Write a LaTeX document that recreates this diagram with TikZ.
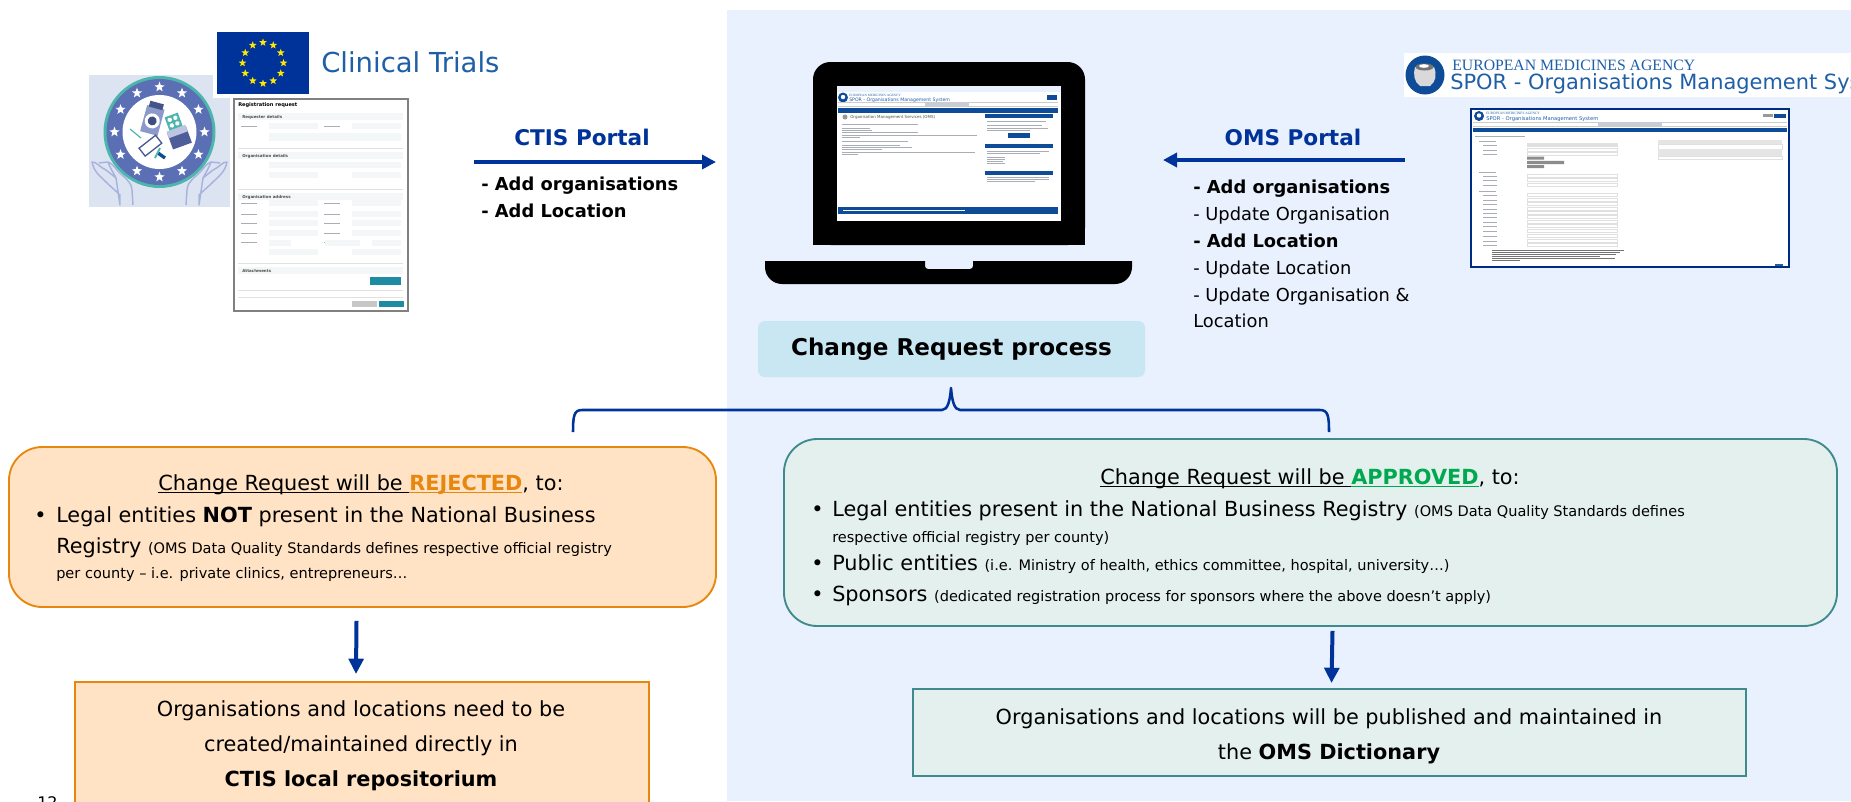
\documentclass[tikz,border=0pt]{standalone}
\usepackage{fontspec}
\setmainfont{DejaVu Sans}
\newfontfamily\emaserif{Liberation Serif}
\usetikzlibrary{shapes.geometric,arrows.meta,calc}
\definecolor{panelbg}{HTML}{EAF1FE}
\definecolor{navy}{HTML}{003399}
\definecolor{orangeln}{HTML}{E8870E}
\definecolor{orangefl}{HTML}{FFE3C4}
\definecolor{tealln}{HTML}{3F8A8C}
\definecolor{tealfl}{HTML}{E4F0EE}
\definecolor{crfill}{HTML}{C9E7F3}
\definecolor{approved}{HTML}{00A84F}
\definecolor{rejected}{HTML}{E8870E}
\definecolor{emablue}{HTML}{0F4C97}
\definecolor{titleblue}{HTML}{1F5FA8}
\definecolor{logobg}{HTML}{DCE4F2}
\definecolor{logoblue}{HTML}{5B6FB5}
\definecolor{logoteal}{HTML}{4DB6AC}
\definecolor{handln}{HTML}{A8B3DD}
\definecolor{fieldfl}{HTML}{F3F7F8}
\definecolor{formteal}{HTML}{1D8CA3}
\definecolor{greytx}{HTML}{A9AEB6}
\tikzset{
  pxsize/.style n args={2}{minimum width=#1*0.75pt,minimum height=#2*0.75pt,inner sep=0pt},
  flowarrow/.style={draw=navy,line width=3pt,-{Triangle[length=10.5pt,width=10.5pt]}},
  downarrow/.style={draw=navy,line width=3pt,-{Triangle[length=11.5pt,width=11pt]}},
  rejbox/.style={draw=orangeln,line width=1.4pt,fill=orangefl},
  appbox/.style={draw=tealln,line width=1.4pt,fill=tealfl},
  lbl/.style={anchor=base west,inner sep=0pt,text=black},
  ctr/.style={anchor=base,inner sep=0pt,text=black},
  portal/.style={anchor=base,inner sep=0pt,text=navy,font=\fontsize{16.2}{19}\selectfont\bfseries},
  tinytx/.style={anchor=base west,inner sep=0pt,text=#1},
  tinytx/.default=black,
  gline/.style={draw=greytx,line width=.55pt},
  euStar/.style={star,star points=5,star point ratio=2.4,fill=#1,draw=none,inner sep=0pt,minimum size=7pt},
}
\newcommand{\bigf}{\fontsize{15.6}{19}\selectfont}
\newcommand{\sml}{\fontsize{10.9}{14}\selectfont}
\newcommand{\lst}{\fontsize{13.4}{16}\selectfont}
\newsavebox{\ulbox}
\newcommand{\myul}[1]{\sbox{\ulbox}{#1}\rlap{\usebox{\ulbox}}\rule[-2.6pt]{\wd\ulbox}{.8pt}}
\begin{document}
\begin{tikzpicture}[x=0.75pt,y=-0.75pt]
\useasboundingbox (0,0) rectangle (1851,801);
\clip (0,0) rectangle (1851,801);
\fill[white] (0,0) rectangle (1851,801);
\fill[panelbg] (727,10) rectangle (1851,801);

% ---------- CTIS logo
\fill[logobg] (89,75) rectangle (230,207);
\fill[white] (213,75) rectangle (233,98);
\fill[logoteal] (159.5,132) circle (56);
\fill[logoblue] (159.5,132) circle (53);
\fill[white] (159.5,132) circle (37);
\foreach \i in {0,30,...,330}
  \node[euStar=white,minimum size=8pt] (ls\i) at ($(159.5,132)+(\i:45)$) {};
\foreach \mirror/\xs in {0/1,319/-1}{
\begin{scope}[shift={(\mirror,0)},xscale=\xs]
\draw[handln,line width=1.1pt,line join=round] (133,205) -- (132,190) .. controls (131,180) and (124,178) .. (117,170)
  .. controls (113,165) and (112,164) .. (108,162) .. controls (111,170) and (113,172) .. (116,178)
  (108,162) -- (99,163) (116,178) -- (106,170) .. controls (98,166) and (97,162) .. (92,162)
  .. controls (94,172) and (100,176) .. (106,182) .. controls (110,186) and (116,191) .. (120,195) -- (120,205) -- cycle;
\end{scope}}
% bottle
\begin{scope}[shift={(153,118)},rotate=-15]
\fill[logoblue!70!white] (-9,-11) rectangle (9,16);
\fill[logoblue!75!black] (-7,-16) rectangle (7,-10);
\fill[white] (0,3) circle (7.5);
\fill[logoblue!70!black] (0,3) circle (4.5);
\end{scope}
% pills
\begin{scope}[shift={(177,131)},rotate=20]
\fill[logoblue!85!black] (-10,-1) rectangle (10,16);
\fill[logoblue!40!white] (-10,-3) rectangle (10,4);
\fill[logoteal] (-7,-17) rectangle (7,-3);
\fill[white] (-3,-13) circle (2.2) (3,-13) circle (2.2) (-3,-7) circle (2.2) (3,-7) circle (2.2);
\end{scope}
% syringe
\draw[logoteal,line width=.9pt] (130,129) -- (141,138);
\draw[fill=white,draw=logoblue!80!black,line width=1pt,rotate around={38:(150,146)}] (140,141) rectangle (161,151);
\draw[emablue,line width=2.5pt] (158,153) -- (165,158);
\draw[logoteal,line width=1.4pt] (155,158) -- (160,148);

% ---------- EU flag
\fill[white] (213,29) rectangle (313,98);
\fill[navy] (217,32) rectangle (309,94);
\foreach \i in {0,30,...,330}
  \node[euStar=yellow!90!orange,minimum size=6pt] (fs\i) at ($(263,63)+(\i:20.5)$) {};
\node[anchor=base west,inner sep=0pt,text=titleblue,font=\fontsize{20.6}{24}\selectfont] (clin) at (321,72) {Clinical Trials};

% ---------- CTIS form screenshot
\draw[fill=white,draw=black!50,line width=1.9pt] (234,99) rectangle (408,311);
\node[tinytx,font=\fontsize{3.8}{4}\selectfont\bfseries] (fT) at (238,106) {Registration request};
\foreach \n/\y/\t in {a/113/Requester details,b/152/Organisation details,c/193/Organisation address,d/267/Attachments}{
  \fill[fieldfl] (238,\y) rectangle (403,\y+7);
  \node[tinytx=black!70,font=\fontsize{3}{4}\selectfont\bfseries] (fS\n) at (242,\y+5) {\t};
}
\foreach \y in {123,200,211,220,230,239}{
  \draw[gline,line width=.35pt] (241,\y+3) -- (257,\y+3);
  \draw[gline,line width=.35pt] (324,\y+3) -- (340,\y+3);
}
\foreach \y in {123,172,200,211,220,230,249}{
  \fill[fieldfl] (269,\y) rectangle (318,\y+6);
  \fill[fieldfl] (352,\y) rectangle (401,\y+6);
}
\fill[fieldfl] (269,133) rectangle (401,141);
\fill[fieldfl] (269,162) rectangle (401,168);
\fill[fieldfl] (269,240) rectangle (291,246);
\fill[fieldfl] (325,240) rectangle (360,246);
\fill[fieldfl] (372,240) rectangle (401,246);
\draw[black!12,line width=.4pt] (238,148) -- (403,148) (238,189) -- (403,189) (238,263) -- (403,263) (238,290) -- (403,290) (238,297) -- (403,297);
\fill[formteal] (370,277) rectangle (401,285);
\fill[black!22] (352,301) rectangle (377,306.5);
\fill[formteal] (379,301) rectangle (404,306.5);

% ---------- CTIS arrow + text
\coordinate (ctisFrom) at (474,162);
\coordinate (ctisTo) at (716,162);
\draw[flowarrow] (ctisFrom) -- (ctisTo);
\node[portal] (ctisT) at (582,145) {CTIS Portal};
\node[lbl,font=\lst\bfseries] (ctis1) at (481,190) {- Add organisations};
\node[lbl,font=\lst\bfseries] (ctis2) at (481,217) {- Add Location};

% ---------- Laptop
\fill[black,rounded corners=13pt] (813,245) -- (813,62) -- (1085,62) -- (1085,245) -- cycle;
\fill[black] (813,225) rectangle (1085,245);
\fill[black] (765,261) -- (925,261) -- (925,266) arc[start angle=180,end angle=90,radius=3] -- (970,269) arc[start angle=90,end angle=0,radius=3] -- (973,261) -- (1132,261) -- (1132,267) arc[start angle=0,end angle=90,radius=17] -- (782,284) arc[start angle=90,end angle=180,radius=17] -- cycle;
\fill[white] (837,86) rectangle (1061,221);
\fill[panelbg] (837,86) rectangle (1061,92);
\fill[emablue] (843,97.5) circle (5);
\fill[white] (843,97) circle (2.2);
\node[tinytx=titleblue,font=\fontsize{2.5}{3}\selectfont\emaserif] (lapE) at (849,96) {EUROPEAN MEDICINES AGENCY};
\node[tinytx=titleblue,font=\fontsize{3.5}{4}\selectfont] (lapS) at (849,101.5) {SPOR - Organisations Management System};
\fill[emablue] (1047,95) rectangle (1057,100);
\draw[black!20,line width=.4pt] (838,102.5) -- (1058,102.5) (838,106) -- (1058,106);
\fill[black!15!panelbg] (925,102.5) rectangle (969,106);
\fill[emablue] (838,108) rectangle (1058,113);
\fill[black!40] (845,117) circle (2.5);
\node[tinytx=black!70,font=\fontsize{3}{4}\selectfont] (lapH) at (850,118.5) {Organisation Management Services (OMS)};
\foreach \y/\xe in {124.5/918,128/870,130/872,132/918,135/977,137/860,141/908,145/900,147/912,149/882,152/975,154/858}
  \draw[gline,line width=.4pt] (842,\y) -- (\xe,\y);
\foreach \y in {114,144,170.5}\fill[emablue] (985,\y) rectangle (1053,\y+4);
\foreach \y/\xe in {121/1046,125/1042,128.5/1048,130.5/1030,151/1049,153/1040,157/1005,159/1005,161/1003,163/1005,177/1049,179/1049,181/1035}
  \draw[gline,line width=.4pt] (987,\y) -- (\xe,\y);
\fill[emablue] (1008,133) rectangle (1030,137.5);
\fill[emablue] (838,207) rectangle (1058,214);
\draw[white,line width=.4pt] (843,210.5) -- (965,210.5);

% ---------- Change request
\node[pxsize={387}{56},fill=crfill,rounded corners=5pt,font=\fontsize{17.3}{20}\selectfont\bfseries] (cr) at (951.5,349) {Change Request process};

% ---------- EMA header
\fill[white] (1404,53) rectangle (1851,97);
\fill[emablue] (1425,75) circle (19.5);
\fill[black!15] (1415,67) -- (1434,67) .. controls (1437,74) and (1436,82) .. (1430,86) -- (1420,86) .. controls (1414,82) and (1413,74) .. (1415,67) -- cycle;
\fill[black!55] (1424.5,67) ellipse (9 and 3.5);
\fill[white] (1424,66) ellipse (5 and 1.8);
\node[tinytx=titleblue,font=\fontsize{11.8}{13}\selectfont\emaserif] (emaT) at (1452,70.5) {EUROPEAN MEDICINES AGENCY};
\node[tinytx=titleblue,font=\fontsize{15.7}{18}\selectfont] (sporT) at (1450,89) {SPOR - Organisations Management System};

% ---------- OMS form screenshot
\draw[fill=white,draw=navy!85!black,line width=1.4pt] (1471,109) rectangle (1789,267);
\fill[emablue] (1479,116) circle (5);
\fill[white] (1479,115.5) circle (2.2);
\node[tinytx=titleblue,font=\fontsize{2.6}{3}\selectfont\emaserif] (omsE) at (1486,114.5) {EUROPEAN MEDICINES AGENCY};
\node[tinytx=titleblue,font=\fontsize{3.9}{4}\selectfont] (omsS) at (1486,120) {SPOR - Organisations Management System};
\fill[black!40] (1763,114) rectangle (1773,117);
\fill[emablue] (1774,113.5) rectangle (1786,118);
\draw[black!20,line width=.4pt] (1473,122) -- (1787,122) (1473,126) -- (1787,126);
\fill[black!15!panelbg] (1598,122) rectangle (1662,126);
\fill[emablue] (1473,128) rectangle (1787,132);
\draw[gline,line width=.5pt] (1475,136) -- (1525,136);
\foreach \y in {141,172,191}\draw[gline,line width=.6pt] (1479,\y) -- (1496,\y);
\foreach \y in {145,150,154,176,180,185,195,200,204,209,213,217,222,226,231,236,241,245}{
  \draw[black!12,line width=.5pt] (1527,\y-1.6) rectangle (1617,\y+1.6);
  \draw[gline,line width=.4pt] (1483,\y) -- (1497,\y);
}
\fill[black!12] (1527,144) rectangle (1617,147);
\fill[black!45] (1527,156.5) rectangle (1544,159.5) (1527,160.8) rectangle (1564,164) (1527,165) rectangle (1544,168);
\foreach \y/\xe in {250/1624,252/1620,254/1616,256/1600,258/1615,260/1520}
  \draw[black!55,line width=.4pt] (1492,\y) -- (\xe,\y);
\fill[black!10] (1658,140) rectangle (1782,144);
\draw[black!12,line width=.4pt] (1658,144) rectangle (1782,149);
\fill[black!10] (1658,149) rectangle (1782,156);
\draw[black!12,line width=.4pt] (1658,156) rectangle (1782,159);
\fill[titleblue] (1775,264) rectangle (1783,266);

% ---------- OMS arrow + text
\coordinate (omsFrom) at (1405,160);
\coordinate (omsTo) at (1163,160);
\draw[flowarrow] (omsFrom) -- (omsTo);
\node[portal] (omsT) at (1293,145) {OMS Portal};
\node[lbl,font=\lst\bfseries] (om1) at (1193,193) {- Add organisations};
\node[lbl,font=\lst] (om2) at (1193,220) {- Update Organisation};
\node[lbl,font=\lst\bfseries] (om3) at (1193,247) {- Add Location};
\node[lbl,font=\lst] (om4) at (1193,274) {- Update Location};
\node[lbl,font=\lst] (om5) at (1193,301) {- Update Organisation \&};
\node[lbl,font=\lst] (om6) at (1193,327) {Location};

% ---------- Rejected box
\node[rejbox,pxsize={707}{160},rounded corners=25pt] (rej) at (362.5,527) {};
\node[ctr,font=\bigf] (rejT) at (361,490) {\myul{Change Request will be\ }\textcolor{rejected}{\myul{\textbf{REJECTED}}}, to:};
\node[lbl,font=\bigf] (rejB) at (34,522) {•};
\node[lbl,font=\bigf] (rej1) at (56,522) {Legal entities \textbf{NOT} present in the National Business};
\node[lbl,font=\bigf] (rej2) at (56,553) {Registry {\sml(OMS Data Quality Standards defines respective official registry}};
\node[lbl,font=\sml] (rej3) at (56,578) {per county – i.e. private clinics, entrepreneurs…};
\node[rejbox,pxsize={574}{170},anchor=north] (rej4) at (362,681) {};
\node[ctr,font=\bigf] (rl1) at (361,716) {Organisations and locations need to be};
\node[ctr,font=\bigf] (rl2) at (361,751) {created/maintained directly in};
\node[ctr,font=\bigf\bfseries] (rl3) at (361,786) {CTIS local repositorium};
\node[anchor=base west,inner sep=0pt,font=\fontsize{12}{14}\selectfont] (pg) at (37,808) {12};
\draw[downarrow] ([shift={(-6,13)}]rej.south) -- ([shift={(-6,-7)}]rej4.north);

% ---------- Approved box
\node[appbox,pxsize={1053}{187},rounded corners=25pt] (app) at (1310.5,532.5) {};
\node[ctr,font=\bigf] (appT) at (1310,484) {\myul{Change Request will be\ }\textcolor{approved}{\myul{\textbf{APPROVED}}}, to:};
\node[lbl,font=\bigf] (ab1) at (811,516) {•};
\node[lbl,font=\bigf] (ap1) at (832,516) {Legal entities present in the National Business Registry {\sml(OMS Data Quality Standards defines}};
\node[lbl,font=\sml] (ap2) at (832,542) {respective official registry per county)};
\node[lbl,font=\bigf] (ab2) at (811,570) {•};
\node[lbl,font=\bigf] (ap3) at (832,570) {Public entities {\sml(i.e. Ministry of health, ethics committee, hospital, university…)}};
\node[lbl,font=\bigf] (ab3) at (811,601) {•};
\node[lbl,font=\bigf] (ap4) at (832,601) {Sponsors {\sml(dedicated registration process for sponsors where the above doesn’t apply)}};
\node[appbox,pxsize={833}{87}] (app2) at (1329.5,732.5) {};
\node[ctr,font=\bigf] (al1) at (1329,724) {Organisations and locations will be published and maintained in};
\node[ctr,font=\bigf] (al2) at (1329,759) {the \textbf{OMS Dictionary}};
\draw[downarrow] ([shift={(22,4)}]app.south) -- ([shift={(2,-5)}]app2.north);

% ---------- Bracket
\coordinate (brL) at (573,432);
\coordinate (brR) at (1329,432);
\coordinate (brTip) at (951,388);
\draw[navy,line width=1.9pt,line join=round] (brL) .. controls (573,416) and (574,410) .. (582,410) -- (942,410) .. controls (948,410) and (950,400) .. (brTip) .. controls (952,400) and (954,410) .. (960,410) -- (1320,410) .. controls (1328,410) and (1329,416) .. (brR);
\end{tikzpicture}
\end{document}
